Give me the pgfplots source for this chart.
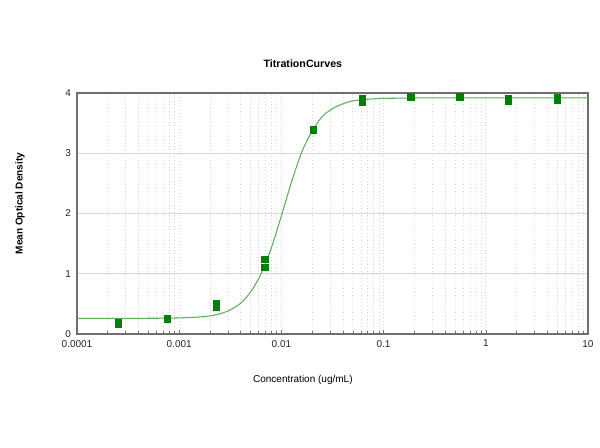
\documentclass[border=0pt]{standalone}
\usepackage{fontspec}
\setmainfont{Liberation Sans}
\usepackage{pgfplots}
\pgfplotsset{compat=1.18}
\definecolor{markGreen}{RGB}{0,128,0}
\definecolor{fitGreen}{RGB}{95,175,95}
\definecolor{frameGray}{RGB}{110,110,110}
\definecolor{gridGray}{RGB}{215,215,215}
\definecolor{tickText}{RGB}{35,35,55}

\begin{document}
\begin{tikzpicture}
  % page = 600x447 px at 0.75pt per px
  \path[use as bounding box, fill=white] (-57.75pt,-84.75pt) rectangle (392.25pt,250.5pt);
  \begin{axis}[
      scale only axis,
      width=383.25pt, height=180.75pt,
      xmode=log,
      xmin=0.0001, xmax=10,
      ymin=0, ymax=4,
      log basis x=10,
      xtick={0.0001,0.001,0.01,0.1,1,10},
      xticklabels={0.0001,0.001,0.01,0.1,1,10},
      minor xtick={
        0.0002,0.0003,0.0004,0.0005,0.0006,0.0007,0.0008,0.0009,
        0.002,0.003,0.004,0.005,0.006,0.007,0.008,0.009,
        0.02,0.03,0.04,0.05,0.06,0.07,0.08,0.09,
        0.2,0.3,0.4,0.5,0.6,0.7,0.8,0.9,
        2,3,4,5,6,7,8,9},
      ytick={0,1,2,3,4},
      font=\fontsize{7.5}{9}\selectfont,
      tick label style={text=tickText},
      /pgf/number format/assume math mode=true,
      axis line style={frameGray, line width=1.4pt},
      tick style={frameGray, line width=0.4pt},
      major tick length=3pt, minor tick length=2.5pt,
      tick align=inside,
      ytick style={draw=none},
      xtick pos=bottom,
      ymajorgrids, xmajorgrids, xminorgrids,
      y grid style={gridGray, line width=0.5pt},
      x grid style={gridGray, dotted, line width=0.6pt},
      minor x grid style={gridGray, dotted, line width=0.6pt},
      title={\bfseries TitrationCurves},
      title style={at={(axis description cs:0.442,1.087)}, anchor=center, font=\fontsize{8}{9}\selectfont},
      xlabel={Concentration (ug/mL)},
      xlabel style={at={(axis description cs:0.442,-0.191)}, anchor=center},
      ylabel={Mean Optical Density},
      ylabel style={at={(axis description cs:-0.1115,0.541)}, anchor=center, rotate=0, font=\fontsize{7.5}{9}\selectfont\bfseries},
      yticklabel style={xshift=-1pt},
      xticklabel style={yshift=-1pt},
    ]
    % fitted curve
    \addplot[fitGreen, line width=0.8pt, smooth, no marks] coordinates {
      (0.0001, 0.260) (0.000316, 0.260) (0.000631, 0.262) (0.001, 0.267)
      (0.00158, 0.283) (0.002, 0.300) (0.00251, 0.336) (0.00316, 0.400)
      (0.00398, 0.510) (0.00501, 0.700) (0.00631, 0.995) (0.00794, 1.42)
      (0.01, 1.96) (0.01259, 2.53) (0.01585, 3.02) (0.01995, 3.37)
      (0.02512, 3.61) (0.03162, 3.74) (0.03981, 3.82) (0.05012, 3.87)
      (0.0631, 3.89) (0.1, 3.91) (0.316, 3.92) (1, 3.92) (10, 3.92)
    };
    % replicate measurements
    \addplot[only marks, mark=square*, mark size=2.4pt, color=markGreen] coordinates {
      (0.000254, 0.17) (0.000254, 0.19)
      (0.000762, 0.24) (0.000762, 0.25)
      (0.00229, 0.45) (0.00229, 0.51)
      (0.00686, 1.11) (0.00686, 1.24)
      (0.0206, 3.39) (0.0206, 3.39)
      (0.0617, 3.85) (0.0617, 3.91)
      (0.185, 3.93) (0.185, 3.95)
      (0.556, 3.93) (0.556, 3.95)
      (1.667, 3.86) (1.667, 3.91)
      (5.0, 3.89) (5.0, 3.93)
    };
  \end{axis}
\end{tikzpicture}
\end{document}
